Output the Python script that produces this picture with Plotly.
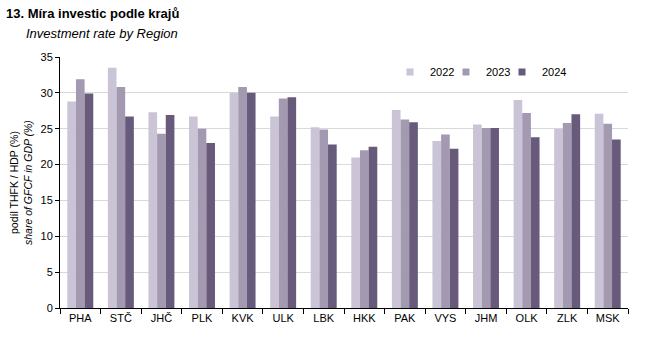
import plotly.graph_objects as go

regions = ["PHA", "STČ", "JHČ", "PLK", "KVK", "ULK", "LBK", "HKK", "PAK", "VYS", "JHM", "OLK", "ZLK", "MSK"]
years = ["2022", "2023", "2024"]
v2022 = [28.8, 33.5, 27.3, 26.7, 30.0, 26.7, 25.2, 21.0, 27.6, 23.3, 25.6, 29.0, 25.0, 27.1]
v2023 = [31.9, 30.8, 24.3, 25.0, 30.8, 29.2, 24.9, 22.0, 26.3, 24.2, 25.1, 27.2, 25.8, 25.7]
v2024 = [29.9, 26.7, 26.9, 23.0, 30.0, 29.4, 22.8, 22.5, 25.9, 22.2, 25.1, 23.8, 27.0, 23.5]
colors = ["#CBC4D6", "#A39AB1", "#675A7B"]
y_ticks = [0, 5, 10, 15, 20, 25, 30, 35]

L, R, T, B, W, H = 60, 37, 57, 52, 665, 360

legend_ids = ["legend", "legend2", "legend3"]
legend_left_px = [390, 446, 502]

fig = go.Figure()
for name, vals, c in zip(years, [v2022, v2023, v2024], colors):
    fig.add_trace(go.Bar(x=regions, y=vals, name=name, showlegend=False,
                         marker=dict(color=c, line=dict(width=0))))
for name, c, lid in zip(years, colors, legend_ids):
    fig.add_trace(go.Scatter(x=[None], y=[None], name=name, mode="markers", legend=lid,
                             marker=dict(symbol="square", size=7, color=c)))

def px(x):
    return (x - L) / (W - L - R)

def py(y):
    return (H - B - y) / (H - T - B)

legend_style = dict(orientation="h", xanchor="left", yanchor="middle", y=py(72),
                    font=dict(size=11), bgcolor="rgba(255,255,255,0)", itemwidth=30)

fig.update_layout(
    width=W, height=H,
    margin=dict(l=L, r=R, t=T, b=B, autoexpand=False),
    paper_bgcolor="white", plot_bgcolor="white",
    font=dict(family="Arial, Liberation Sans, sans-serif", size=11, color="#000"),
    barmode="group", bargap=0.36, bargroupgap=0,
    showlegend=True,
    legend=dict(x=px(legend_left_px[0]), **legend_style),
    legend2=dict(x=px(legend_left_px[1]), **legend_style),
    legend3=dict(x=px(legend_left_px[2]), **legend_style),
    annotations=[
        dict(text="<b>13. Míra investic podle krajů</b>", x=px(4), y=py(14), xref="paper", yref="paper",
             showarrow=False, xanchor="left", yanchor="middle", font=dict(size=13)),
        dict(text="<i>Investment rate by Region</i>", x=px(24), y=py(33), xref="paper", yref="paper",
             xanchor="left", yanchor="middle", showarrow=False, font=dict(size=13)),
        dict(text="podíl THFK / HDP (%)<br><i>share of GFCF in GDP (%)</i>", x=px(21), y=py(183),
             xref="paper", yref="paper", textangle=-90, showarrow=False, xanchor="center",
             yanchor="middle", font=dict(size=10.5), align="center"),
    ],
    xaxis=dict(showline=True, linecolor="#000", linewidth=1, ticks="outside", tickson="boundaries",
               ticklen=5, tickcolor="#000", tickfont=dict(size=11)),
    yaxis=dict(range=[0, 35], tickvals=y_ticks, showline=True, linecolor="#000", linewidth=1,
               ticks="outside", ticklen=4, tickcolor="#000", gridcolor="#D9D9D9", gridwidth=1,
               tickfont=dict(size=11), zeroline=False),
)

fig.write_html("out.html", config={"displayModeBar": False},
               post_script="document.body.style.margin='0';")
